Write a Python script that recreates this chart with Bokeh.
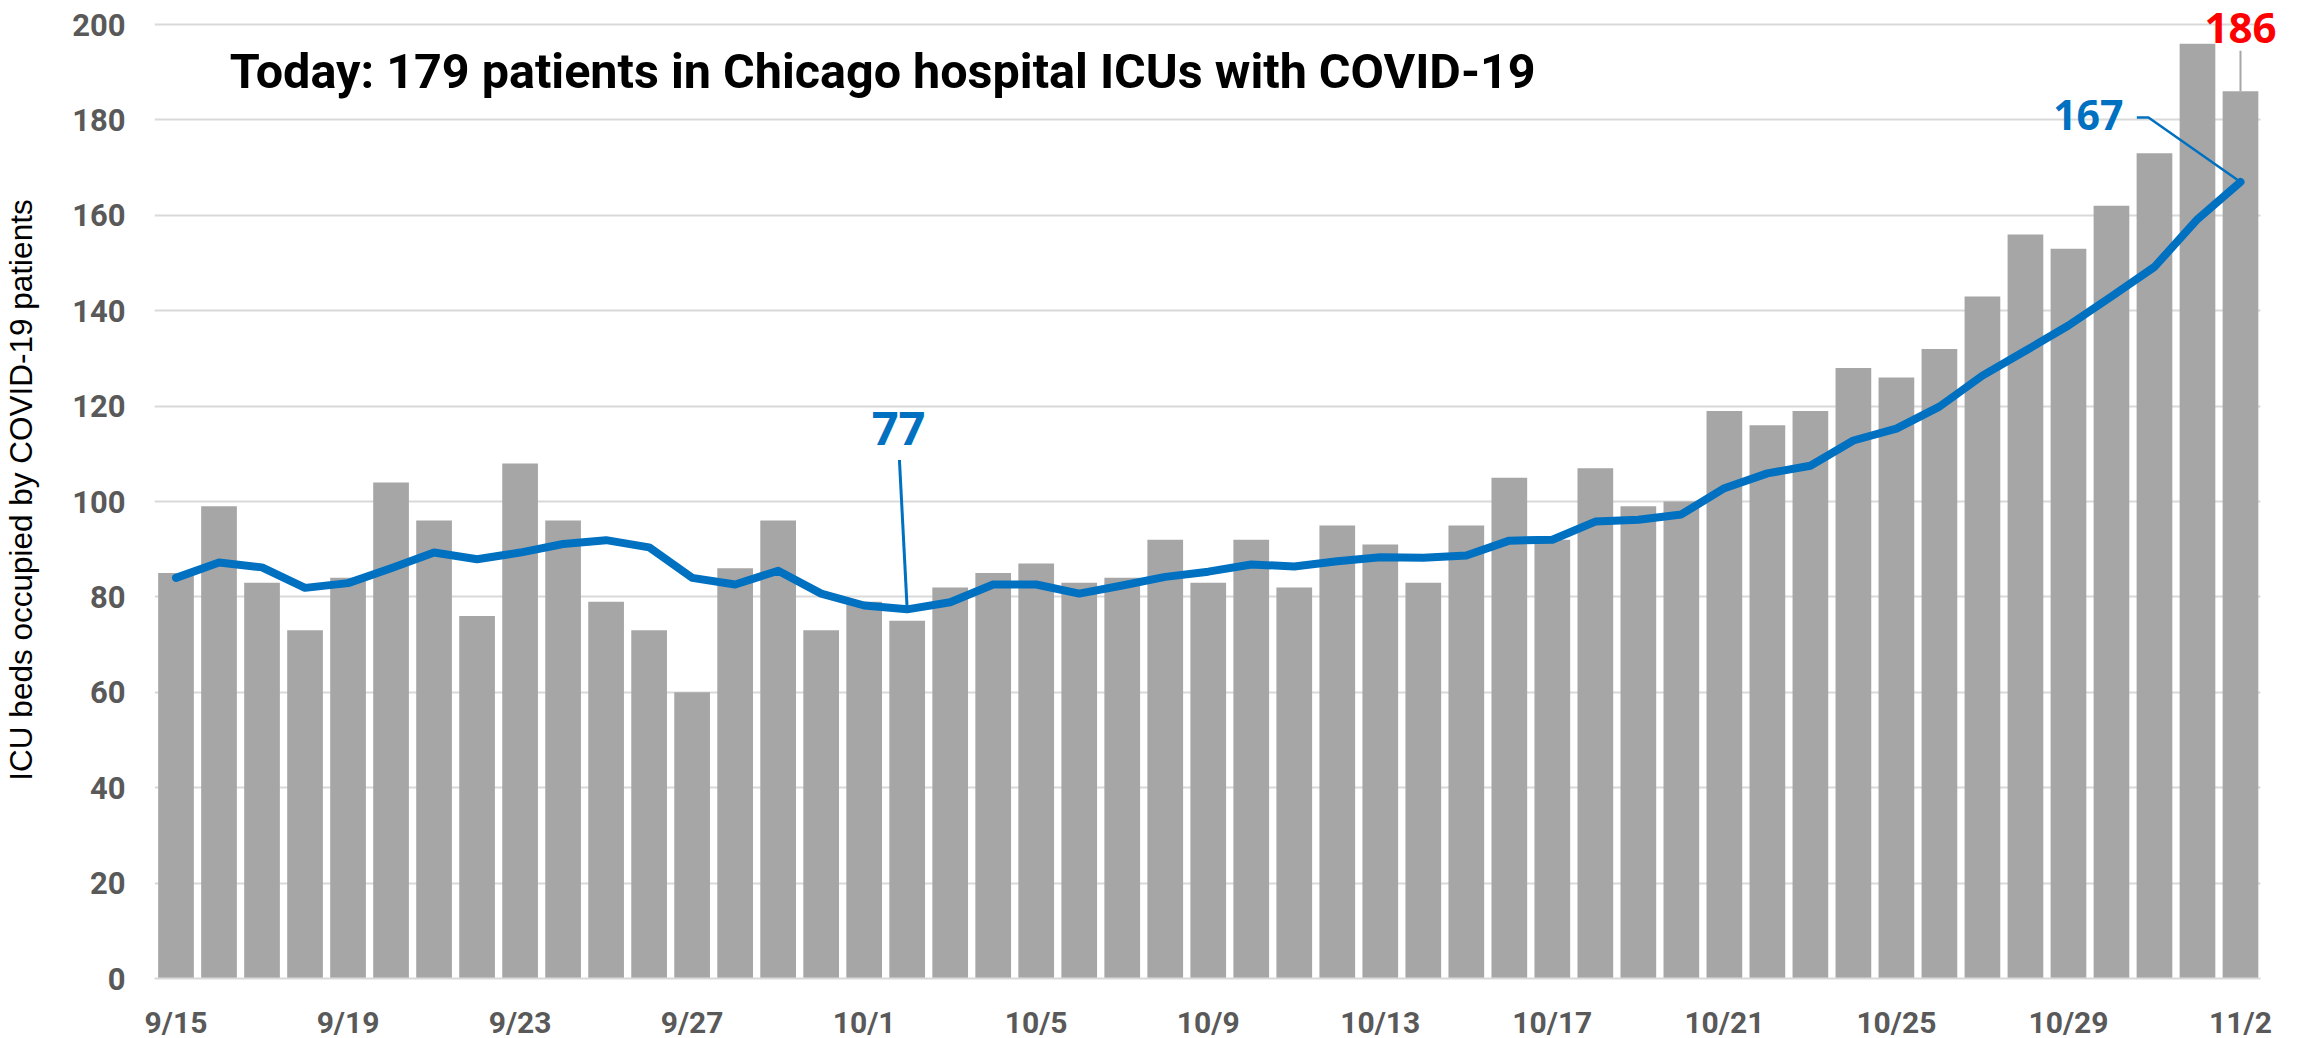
import pandas as pd
from bokeh.plotting import figure
from bokeh.models import ColumnDataSource, FixedTicker, Label, Range1d
from bokeh.embed import file_html
from bokeh.resources import INLINE

# ---- data ----
dates = [f"{d.month}/{d.day}" for d in pd.date_range("2020-09-15", "2020-11-02")]
icu_patients = [85, 99, 83, 73, 84, 104, 96, 76, 108, 96, 79, 73, 60, 86, 96,
                73,
                79, 75, 82, 85, 87, 83, 84, 92, 83, 92, 82, 95, 91, 83, 95, 105,
                92, 107, 99, 100, 119, 116, 119, 128, 126, 132, 143, 156, 153, 162, 173,
                196, 186]
avg_7day = [84, 87.2, 86.2, 81.9, 82.9, 86, 89.3, 87.9, 89.3, 91.1, 91.9, 90.4, 84, 82.6, 85.5,
            80.7,
            78.2, 77.4, 78.9, 82.6, 82.6, 80.7, 82.4, 84.2, 85.3, 86.8, 86.4, 87.5, 88.3, 88.2, 88.7, 91.8,
            92, 95.8, 96.2, 97.3, 102.8, 105.9, 107.5, 112.8, 115.3, 119.9, 126.4, 131.6, 136.9, 143, 149.2,
            159.2, 167]
y_ticks = list(range(0, 201, 20))
x_tick_idx = list(range(0, len(dates), 4))
title_text = "Today: 179 patients in Chicago hospital ICUs with COVID-19"
y_label = "ICU beds occupied by COVID-19 patients"

idx = list(range(len(dates)))
src = ColumnDataSource(dict(x=idx, icu=icu_patients, avg=avg_7day, date=dates))

BAR = "#a6a6a6"
BLUE = "#0070c0"
GRID = "#d9d9d9"
TICK = "#595959"

x_lo, x_hi = -0.5, len(dates) - 0.53

p = figure(frame_width=2129, frame_height=977,
           min_border_left=147, min_border_right=2, min_border_top=1, min_border_bottom=0,
           x_range=Range1d(x_lo, len(dates)), y_range=Range1d(0, 204.84),
           output_backend="svg", toolbar_location=None)
p.outline_line_color = None
p.background_fill_color = "white"
p.border_fill_color = "white"

p.vbar(x="x", top="icu", width=0.83, source=src, fill_color=BAR, line_color=None)
p.line(x="x", y="avg", source=src, line_color=BLUE, line_width=8,
       line_join="round", line_cap="round")

# axes
p.xgrid.visible = False
p.ygrid.grid_line_color = GRID
p.ygrid.grid_line_width = 2
p.ygrid.ticker = FixedTicker(ticks=y_ticks)
p.ygrid.cross_bounds = (x_lo, x_hi)

ya = p.yaxis[0]
ya.ticker = FixedTicker(ticks=y_ticks)
ya.axis_line_color = None
ya.major_tick_line_color = None
ya.minor_tick_line_color = None
ya.major_label_text_font = "Roboto"
ya.major_label_text_font_style = "bold"
ya.major_label_text_font_size = "31px"
ya.major_label_text_color = TICK
ya.major_label_standoff = 23
ya.axis_label = y_label
ya.axis_label_text_font = "Liberation Sans"
ya.axis_label_text_font_style = "normal"
ya.axis_label_text_font_size = "31.5px"
ya.axis_label_text_color = "#000000"
ya.axis_label_standoff = 30

xa = p.xaxis[0]
xa.ticker = FixedTicker(ticks=x_tick_idx)
xa.major_label_overrides = {i: dates[i] for i in x_tick_idx}
xa.bounds = (x_lo, x_hi)
xa.axis_line_color = GRID
xa.axis_line_width = 2
xa.major_tick_line_color = None
xa.minor_tick_line_color = None
xa.major_label_text_font = "Roboto"
xa.major_label_text_font_style = "bold"
xa.major_label_text_font_size = "30px"
xa.major_label_text_color = TICK
xa.major_label_standoff = 20

# title inside the plot
p.add_layout(Label(x=1.25, y=190.2, text=title_text, text_font="Roboto",
                   text_font_style="bold", text_font_size="48.5px", text_color="black",
                   text_align="left", text_baseline="alphabetic"))

# annotation: 77 (minimum of average)
i_min = 17
p.line(x=[i_min - 0.18, i_min], y=[108.7, avg_7day[i_min]], line_color=BLUE, line_width=3)
p.add_layout(Label(x=i_min - 0.2, y=avg_7day[i_min] + 38.0, text=f"{int(avg_7day[i_min])}",
                   text_font="Open Sans", text_font_style="bold", text_font_size="47px",
                   text_color=BLUE, text_align="center", text_baseline="alphabetic"))

# annotation: 167 (latest average)
i_last = len(dates) - 1
p.line(x=[i_last - 2.41, i_last - 2.14, i_last], y=[180.5, 180.5, avg_7day[i_last]],
       line_color=BLUE, line_width=2.5)
p.add_layout(Label(x=i_last - 2.72, y=avg_7day[i_last] + 14.0, text=f"{int(avg_7day[i_last])}",
                   text_font="Open Sans", text_font_style="bold", text_font_size="41px",
                   text_color=BLUE, text_align="right", text_baseline="alphabetic"))

# annotation: 186 (latest count)
p.line(x=[i_last, i_last], y=[194.5, icu_patients[i_last]], line_color=BAR, line_width=2)
p.add_layout(Label(x=i_last, y=icu_patients[i_last] + 13.3, text=f"{icu_patients[i_last]}",
                   text_font="Open Sans", text_font_style="bold", text_font_size="42px",
                   text_color="#ff0000", text_align="center", text_baseline="alphabetic"))

open("out.html", "w").write(file_html(p, INLINE))
